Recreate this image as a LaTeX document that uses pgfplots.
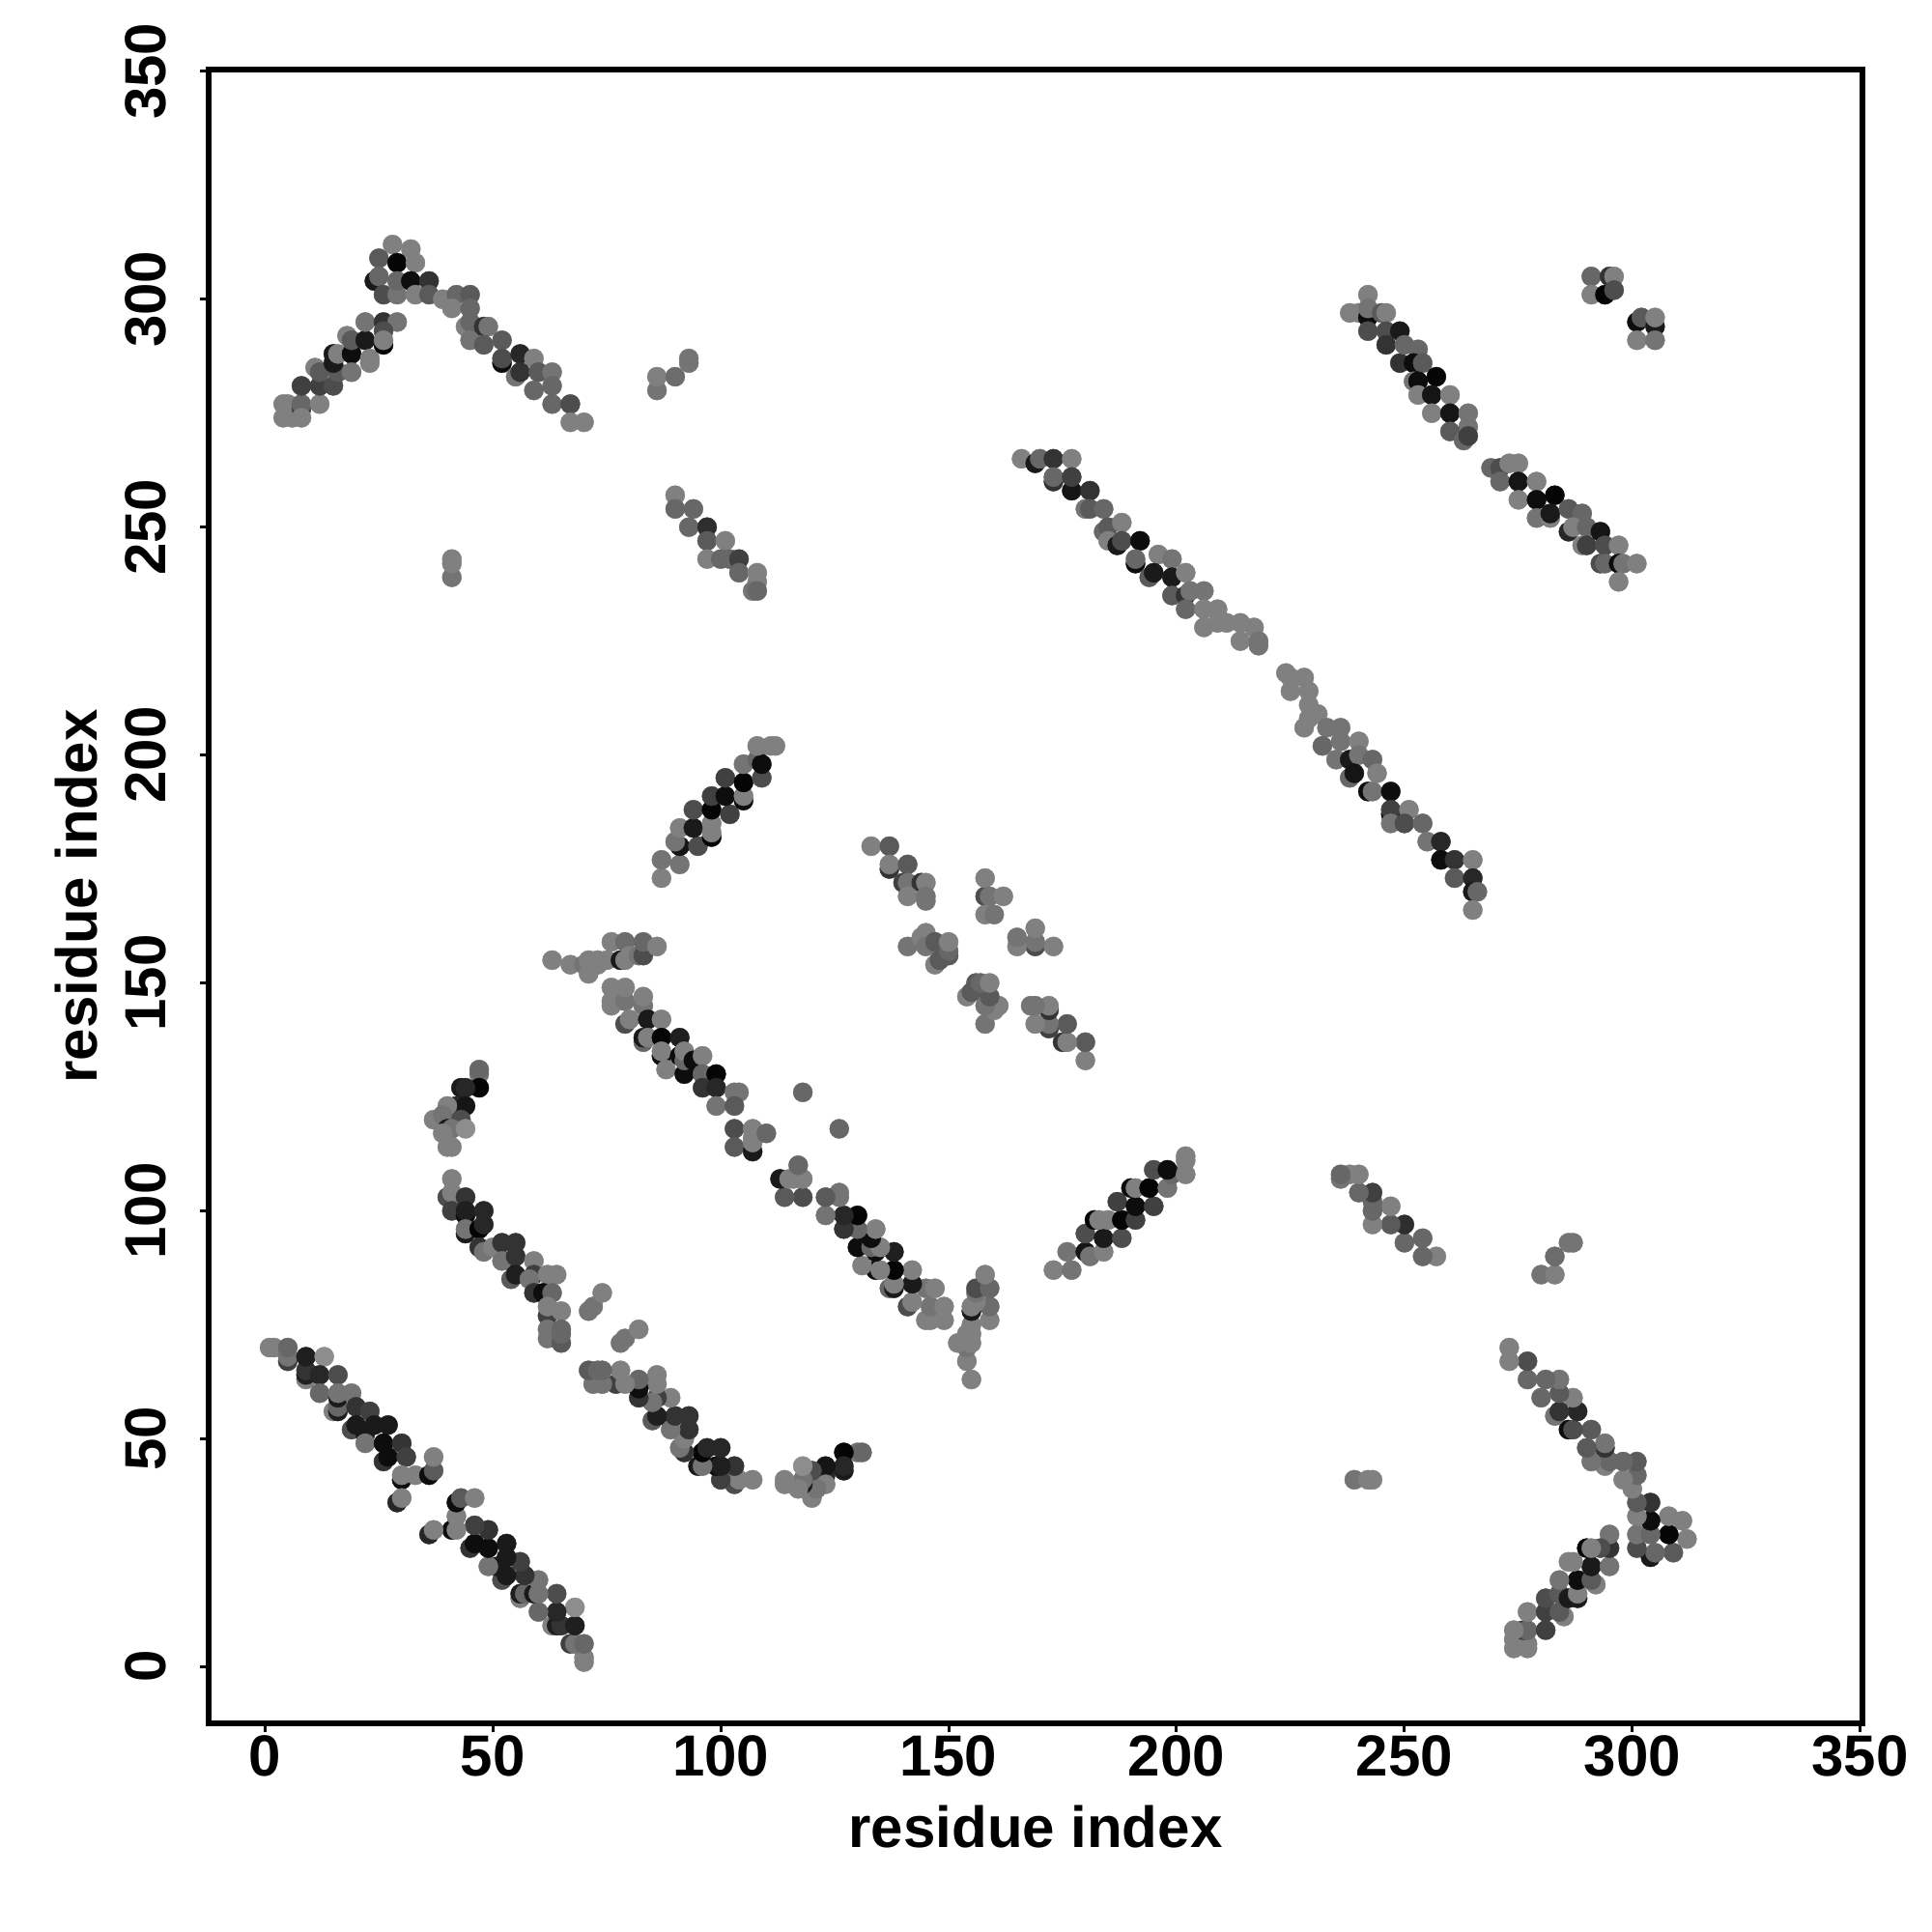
\documentclass[border=0pt]{standalone}
\usepackage{fontspec}
\setmainfont{Liberation Sans}
\usepackage{pgfplots}
\pgfplotsset{compat=1.18}
\begin{document}
\begin{tikzpicture}[x=1pt,y=1pt]
\path[use as bounding box] (0,0) rectangle (500,500);
\begin{axis}[
  at={(54pt,54pt)}, anchor=south west,
  scale only axis, width=428pt, height=428pt,
  xmin=-12.36, xmax=350.5, ymin=-12.44, ymax=350.4,
  axis line style={line width=1.45pt},
  tick style={line width=0.75pt, black},
  tick align=outside, major tick length=2.2pt,
  xtick={0,50,...,350}, ytick={0,50,...,350},
  xtick pos=bottom, ytick pos=left,
  /pgf/number format/assume math mode=true,
  tick label style={font=\fontsize{15}{16}\selectfont\bfseries},
  xticklabel style={anchor=center, yshift=-6.2pt},
  yticklabel style={rotate=90, anchor=center, yshift=14pt},
  xlabel={residue index}, ylabel={residue index},
  label style={font=\fontsize{15}{16}\selectfont\bfseries},
  xlabel style={at={(axis description cs:0.5,0)}, anchor=center, yshift=-26.8pt},
  ylabel style={at={(axis description cs:0,0.5)}, anchor=center, rotate=0, yshift=34.2pt},
  colormap={g}{gray(0cm)=(0);gray(1cm)=(1)},
  point meta min=0, point meta max=1,
]
\addplot[scatter, only marks, mark=*, mark size=2.5pt, line width=0.1pt,
  scatter/use mapped color={draw=mapped color, fill=mapped color},
  point meta=explicit] coordinates {
% A (antiparallel 1-37 / 70-29) and mirror
(1,70)[.5] (2,70)[.5] (5,67)[.25] (5,68)[.45] (5,70)[.4] (9,63)[.5] (9,64)[.12] (9,65)[.2] (9,68)[.12] (13,68)[.55] (12,64)[.15] (16,64)[.3] (12,60)[.4] (15,56)[.5] (16,56)[.12] (16,57)[.4] (16,59)[.1] (16,60)[.45] (19,60)[.45] (20,57)[.2] (19,52)[.3] (20,53)[.1] (23,56)[.25] (24,53)[.1] (27,53)[.1] (22,51)[.1] (22,49)[.45] (26,45)[.2] (27,46)[.05] (26,49)[.05] (30,49)[.2] (31,46)[.25] (30,41)[.05] (30,42)[.5] (33,42)[.5] (36,42)[.05] (37,43)[.35] (37,46)[.5] (29,36)[.15] (30,37)[.5]
(70,1)[.5] (70,2)[.5] (67,5)[.25] (68,5)[.45] (70,5)[.4] (63,9)[.5] (64,9)[.12] (65,9)[.2] (68,9)[.12] (68,13)[.55] (64,12)[.15] (64,16)[.3] (60,12)[.4] (56,15)[.5] (56,16)[.12] (57,16)[.4] (59,16)[.1] (60,16)[.45] (60,19)[.45] (57,20)[.2] (52,19)[.3] (53,20)[.1] (56,23)[.25] (53,24)[.1] (53,27)[.1] (51,22)[.1] (49,22)[.45] (45,26)[.2] (46,27)[.05] (49,26)[.05] (49,30)[.2] (46,31)[.25] (41,30)[.05] (42,30)[.5] (42,33)[.5] (42,36)[.05] (43,37)[.35] (46,37)[.5] (36,29)[.15] (37,30)[.5]
% B and mirror
(47,130)[.45] (47,131)[.4] (47,127)[.02] (43,127)[.1] (44,127)[.15] (42,123)[.15] (44,123)[.08] (40,122)[.05] (40,123)[.5] (37,120)[.5] (39,121)[.45] (43,120)[.3] (40,118)[.1] (41,118)[.45] (44,118)[.55] (39,117)[.5] (40,114)[.5] (41,114)[.5]
(130,47)[.45] (131,47)[.4] (127,47)[.02] (127,43)[.1] (127,44)[.15] (123,42)[.15] (123,44)[.08] (122,40)[.05] (123,40)[.5] (120,37)[.5] (121,39)[.45] (120,43)[.3] (118,40)[.1] (118,41)[.45] (118,44)[.55] (117,39)[.5] (114,40)[.5] (114,41)[.5]
% C and mirror
(40,103)[.3] (41,104)[.5] (41,107)[.5] (44,103)[.2] (41,100)[.25] (44,99)[.05] (44,100)[.12] (48,100)[.15] (44,95)[.1] (44,96)[.45] (47,96)[.02] (48,97)[.15] (47,92)[.2] (48,91)[.45] (50,92)[.5] (52,93)[.2] (55,93)[.2] (54,89)[.05] (52,89)[.45] (55,90)[.2] (59,89)[.5] (54,85)[.35] (55,86)[.12] (59,86)[.25] (58,85)[.45] (62,86)[.5] (64,86)[.5] (59,82)[.2] (61,82)[.05] (63,82)[.4] (62,77)[.25] (62,79)[.5] (65,78)[.5] (62,72)[.45] (62,74)[.45] (65,71)[.35] (65,73)[.4] (65,74)[.4] (71,78)[.45] (72,79)[.45] (74,82)[.5]
(103,40)[.3] (104,41)[.5] (107,41)[.5] (103,44)[.2] (100,41)[.25] (99,44)[.05] (100,44)[.12] (100,48)[.15] (95,44)[.1] (96,44)[.45] (96,47)[.02] (97,48)[.15] (92,47)[.2] (91,48)[.45] (92,50)[.5] (93,52)[.2] (93,55)[.2] (89,54)[.05] (89,52)[.45] (90,55)[.2] (89,59)[.5] (85,54)[.35] (86,55)[.12] (86,59)[.25] (85,58)[.45] (86,62)[.5] (86,64)[.5] (82,59)[.2] (82,61)[.05] (82,63)[.4] (77,62)[.25] (79,62)[.5] (78,65)[.5] (72,62)[.45] (74,62)[.45] (71,65)[.35] (73,65)[.4] (74,65)[.4] (78,71)[.45] (79,72)[.45] (82,74)[.5]
% E and mirror
(87,173)[.5] (87,177)[.45] (91,176)[.45] (91,180)[.08] (90,181)[.45] (91,184)[.5] (95,180)[.3] (94,184)[.1] (94,188)[.3] (98,182)[.02] (98,183)[.5] (98,185)[.5] (98,188)[.02] (98,191)[.25] (102,187)[.25] (101,191)[.05] (101,195)[.25] (105,190)[.05] (105,191)[.5] (105,194)[.02] (105,198)[.45] (108,199)[.4] (109,195)[.3] (109,198)[.05] (108,202)[.5] (111,202)[.5] (112,202)[.5]
(173,87)[.5] (177,87)[.45] (176,91)[.45] (180,91)[.08] (181,90)[.45] (184,91)[.5] (180,95)[.3] (184,94)[.1] (188,94)[.3] (182,98)[.02] (183,98)[.5] (185,98)[.5] (188,98)[.02] (191,98)[.25] (187,102)[.25] (191,101)[.05] (195,101)[.25] (190,105)[.05] (191,105)[.5] (194,105)[.02] (198,105)[.45] (199,108)[.4] (195,109)[.3] (198,109)[.05] (202,108)[.5] (202,111)[.5] (202,112)[.5]
% F (90-108 / 236-257) and mirror
(90,257)[.5] (90,254)[.4] (94,254)[.4] (93,250)[.4] (97,250)[.18] (97,247)[.35] (97,243)[.5] (101,247)[.5] (100,243)[.4] (102,243)[.4] (104,243)[.25] (104,240)[.4] (108,240)[.5] (108,238)[.5] (107,236)[.45] (108,236)[.4]
(257,90)[.5] (254,90)[.4] (254,94)[.4] (250,93)[.4] (250,97)[.18] (247,97)[.35] (243,97)[.5] (247,101)[.5] (243,100)[.4] (243,102)[.4] (243,104)[.25] (240,104)[.4] (240,108)[.5] (238,108)[.5] (236,107)[.45] (236,108)[.4]
% T and isolated, with mirror
(86,280)[.45] (86,283)[.5] (90,283)[.42] (93,286)[.45] (93,287)[.45] (41,239)[.45] (41,242)[.5] (41,243)[.5]
(280,86)[.45] (283,86)[.5] (283,90)[.42] (286,93)[.45] (287,93)[.45] (239,41)[.45] (242,41)[.5] (243,41)[.5]
% G and mirror
(63,155)[.5] (67,154)[.5] (70,154)[.45] (71,152)[.5] (73,154)[.5] (71,155)[.5] (73,155)[.5] (75,155)[.5] (76,159)[.5] (78,155)[.1] (79,155)[.5] (79,159)[.42] (80,156)[.5] (82,156)[.45] (83,156)[.3] (83,159)[.4] (86,158)[.5]
(76,145)[.5] (76,146)[.5] (76,149)[.5] (79,146)[.45] (79,149)[.5] (83,145)[.45] (83,147)[.5] (79,141)[.3] (80,142)[.5] (84,142)[.1] (87,142)[.5] (83,137)[.4] (83,138)[.1] (84,138)[.5] (87,138)[.02] (91,138)[.12] (87,134)[.05] (87,135)[.5] (88,131)[.5] (91,134)[.05] (92,130)[.05] (92,133)[.4] (92,135)[.5] (94,133)[.05] (96,134)[.5] (96,130)[.4] (99,130)[.02] (96,127)[.2] (99,127)[.15] (103,126)[.45] (104,126)[.45] (99,123)[.45] (103,123)[.35] (103,118)[.3] (103,114)[.35] (107,113)[.1] (107,115)[.5] (107,116)[.5] (107,118)[.5] (110,117)[.4] (118,126)[.4]
(155,63)[.5] (154,67)[.5] (154,70)[.45] (152,71)[.5] (154,73)[.5] (155,71)[.5] (155,73)[.5] (155,75)[.5] (159,76)[.5] (155,78)[.1] (155,79)[.5] (159,79)[.42] (156,80)[.5] (156,82)[.45] (156,83)[.3] (159,83)[.4] (158,86)[.5]
(145,76)[.5] (146,76)[.5] (149,76)[.5] (146,79)[.45] (149,79)[.5] (145,83)[.45] (147,83)[.5] (141,79)[.3] (142,80)[.5] (142,84)[.1] (142,87)[.5] (137,83)[.4] (138,83)[.1] (138,84)[.5] (138,87)[.02] (138,91)[.12] (134,87)[.05] (135,87)[.5] (131,88)[.5] (134,91)[.05] (130,92)[.05] (133,92)[.4] (135,92)[.5] (133,94)[.05] (134,96)[.5] (130,96)[.4] (130,99)[.02] (127,96)[.2] (127,99)[.15] (126,103)[.45] (126,104)[.45] (123,99)[.45] (123,103)[.35] (118,103)[.3] (114,103)[.35] (113,107)[.1] (115,107)[.5] (116,107)[.5] (118,107)[.5] (117,110)[.4] (126,118)[.4]
% J, K, L and mirror
(133,180)[.5] (137,180)[.35] (137,175)[.2] (137,176)[.5] (141,176)[.35] (140,172)[.25] (141,172)[.45] (144,172)[.2] (145,172)[.5] (141,169)[.5] (145,168)[.45] (145,169)[.45]
(158,169)[.3] (158,173)[.5] (159,169)[.45] (162,169)[.5] (158,165)[.5] (160,165)[.45]
(141,158)[.45] (144,160)[.5] (145,161)[.5] (145,158)[.45] (147,159)[.35] (147,154)[.5] (148,155)[.35] (150,156)[.35] (150,157)[.4] (150,159)[.5]
(180,133)[.5] (180,137)[.35] (175,137)[.2] (176,137)[.5] (176,141)[.35] (172,140)[.25] (172,141)[.45] (172,144)[.2] (172,145)[.5] (169,141)[.5] (168,145)[.45] (169,145)[.45]
(169,158)[.3] (173,158)[.5] (169,159)[.45] (169,162)[.5] (165,158)[.5] (165,160)[.45]
(158,141)[.45] (160,144)[.5] (161,145)[.5] (158,145)[.45] (159,147)[.35] (154,147)[.5] (155,148)[.35] (156,150)[.35] (157,150)[.4] (159,150)[.5]
% P (as read)
(166,265)[.5] (169,264)[.1] (170,265)[.4] (173,265)[.2] (177,265)[.5] (173,260)[.2] (173,261)[.4] (177,258)[.08] (177,261)[.25] (181,258)[.2] (180,254)[.45] (181,254)[.35] (184,254)[.4] (184,249)[.4] (185,250)[.35] (188,251)[.5] (185,247)[.5] (187,246)[.1] (188,247)[.3] (192,247)[.05] (191,242)[.05] (191,243)[.4] (196,244)[.5] (199,243)[.45] (194,239)[.35] (195,240)[.1] (199,239)[.1] (202,240)[.5] (199,235)[.35] (202,235)[.2] (203,236)[.45] (206,236)[.45] (202,232)[.4] (206,232)[.5] (209,232)[.5] (206,228)[.5] (209,229)[.5] (211,229)[.5] (214,229)[.5] (217,228)[.5] (214,225)[.5] (218,225)[.45] (218,224)[.45]
(224,218)[.5] (225,217)[.5] (225,214)[.5] (228,217)[.5] (229,214)[.5] (229,211)[.5] (231,209)[.5] (228,206)[.5] (229,208)[.5] (233,206)[.45] (236,206)[.45] (232,202)[.4] (236,203)[.45] (240,203)[.5] (235,199)[.45] (238,199)[.1] (240,200)[.45] (243,199)[.4] (238,195)[.4] (239,196)[.08] (244,196)[.5] (242,192)[.05] (243,192)[.45] (247,192)[.05] (247,187)[.05] (247,188)[.25] (251,188)[.5] (247,185)[.45] (250,185)[.3] (254,185)[.4] (255,181)[.45] (258,181)[.15] (258,177)[.05] (261,177)[.2] (265,177)[.5] (261,173)[.35] (265,173)[.15] (265,170)[.1] (266,170)[.4] (265,166)[.5]
% Q (as read)
(238,297)[.5] (240,297)[.5] (242,301)[.5] (242,296)[.05] (242,298)[.45] (242,293)[.3] (245,297)[.35] (246,297)[.5] (246,293)[.3] (249,293)[.1] (246,290)[.2] (249,286)[.2] (250,290)[.4] (253,289)[.4] (252,286)[.05] (254,286)[.35] (257,283)[.02] (252,282)[.45] (253,282)[.05] (253,279)[.5] (256,279)[.08] (260,279)[.5] (256,275)[.5] (260,275)[.08] (264,275)[.45] (264,272)[.45] (260,271)[.35] (263,269)[.4] (264,270)[.25]
(269,263)[.4] (271,263)[.3] (273,264)[.5] (275,264)[.5] (271,260)[.4] (275,260)[.08] (275,256)[.5] (279,260)[.5] (279,256)[.05] (283,257)[.02] (279,252)[.45] (282,252)[.5] (282,253)[.1] (286,254)[.35] (289,253)[.4] (286,249)[.15] (287,250)[.5] (290,250)[.4] (289,246)[.5] (290,246)[.25] (293,249)[.08] (294,246)[.3] (297,246)[.5] (293,242)[.3] (294,242)[.4] (297,242)[.05] (298,242)[.45] (301,242)[.5] (297,238)[.5]
% R, S
(291,305)[.4] (291,301)[.5] (295,305)[.2] (296,305)[.5] (294,301)[.02] (296,302)[.3]
(301,295)[.05] (302,296)[.35] (301,291)[.5] (305,294)[.1] (305,296)[.5] (305,291)[.45]
% U (top left) and mirror
(4,277)[.5] (4,274)[.5] (5,277)[.5] (6,274)[.5] (8,276)[.25] (8,277)[.4] (8,274)[.5] (12,277)[.5] (8,281)[.25] (12,281)[.25] (15,281)[.3] (11,285)[.5] (12,284)[.35] (16,284)[.35] (15,286)[.1] (15,288)[.1] (16,288)[.5] (19,288)[.05] (19,284)[.45] (18,292)[.5] (19,291)[.35] (22,291)[.1] (23,286)[.5] (23,287)[.5] (22,295)[.45] (26,295)[.2] (29,295)[.45] (26,293)[.3] (26,290)[.02] (26,291)[.5]
(28,312)[.5] (32,311)[.5] (25,309)[.35] (29,308)[.02] (33,308)[.5] (24,304)[.1] (25,305)[.4] (26,301)[.3] (29,301)[.45] (29,304)[.4] (32,304)[.05] (36,304)[.2] (33,301)[.5] (36,301)[.35] (39,300)[.5] (42,301)[.4] (45,301)[.35] (41,298)[.5] (45,298)[.4] (45,293)[.2] (44,294)[.5] (45,295)[.4] (45,291)[.45] (48,294)[.2] (49,294)[.45] (48,290)[.35] (52,291)[.35] (52,286)[.05] (52,287)[.3] (56,288)[.15] (59,287)[.5] (55,283)[.45] (56,284)[.2] (60,284)[.35] (63,284)[.45] (59,280)[.4] (63,281)[.4] (63,277)[.4] (67,277)[.3] (67,273)[.5] (70,273)[.5]
(277,4)[.5] (274,4)[.5] (277,5)[.5] (274,6)[.5] (276,8)[.25] (277,8)[.4] (274,8)[.5] (277,12)[.5] (281,8)[.25] (281,12)[.25] (281,15)[.3] (285,11)[.5] (284,12)[.35] (284,16)[.35] (286,15)[.1] (288,15)[.1] (288,16)[.5] (288,19)[.05] (284,19)[.45] (292,18)[.5] (291,19)[.35] (291,22)[.1] (286,23)[.5] (287,23)[.5] (295,22)[.45] (295,26)[.2] (295,29)[.45] (293,26)[.3] (290,26)[.02] (291,26)[.5]
(312,28)[.5] (311,32)[.5] (309,25)[.35] (308,29)[.02] (308,33)[.5] (304,24)[.1] (305,25)[.4] (301,26)[.3] (301,29)[.45] (304,29)[.4] (304,32)[.05] (304,36)[.2] (301,33)[.5] (301,36)[.35] (300,39)[.5] (301,42)[.4] (301,45)[.35] (298,41)[.5] (298,45)[.4] (293,45)[.2] (294,44)[.5] (295,45)[.4] (291,45)[.45] (294,48)[.2] (294,49)[.45] (290,48)[.35] (291,52)[.35] (286,52)[.05] (287,52)[.3] (288,56)[.15] (287,59)[.5] (283,55)[.45] (284,56)[.2] (284,60)[.35] (284,63)[.45] (280,59)[.4] (281,63)[.4] (277,63)[.4] (277,67)[.3] (273,67)[.5] (273,70)[.5]
};
\end{axis}
\end{tikzpicture}
\end{document}
